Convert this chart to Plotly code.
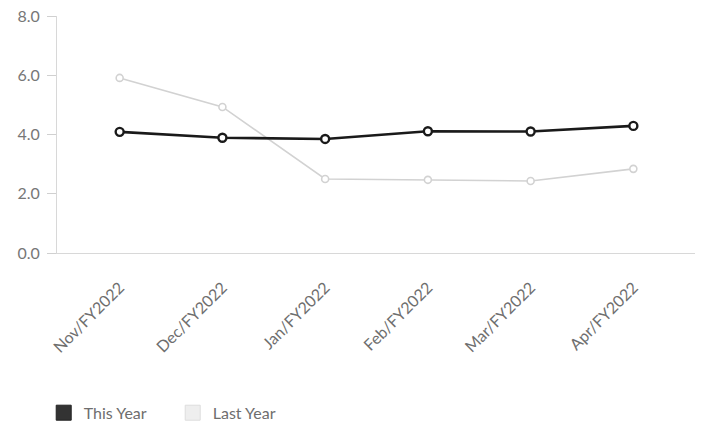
import plotly.graph_objects as go

categories = ["Nov/FY2022", "Dec/FY2022", "Jan/FY2022", "Feb/FY2022", "Mar/FY2022", "Apr/FY2022"]
this_year = [4.09, 3.89, 3.85, 4.11, 4.10, 4.29]
last_year = [5.91, 4.93, 2.50, 2.47, 2.43, 2.84]
y_ticks = [0, 2, 4, 6, 8]
y_tick_labels = ["0.0", "2.0", "4.0", "6.0", "8.0"]

fig = go.Figure()
fig.add_trace(go.Scatter(
    x=categories, y=last_year, mode="lines+markers", name="Last Year",
    line=dict(color="#d2d2d2", width=1.6),
    marker=dict(symbol="circle", size=7, color="white", line=dict(color="#d2d2d2", width=1.6)),
    showlegend=False,
))
fig.add_trace(go.Scatter(
    x=categories, y=this_year, mode="lines+markers", name="This Year",
    line=dict(color="#1a1a1a", width=2.6),
    marker=dict(symbol="circle", size=8, color="white", line=dict(color="#1a1a1a", width=2.4)),
    showlegend=False,
))
# legend entries
fig.add_trace(go.Scatter(x=[None], y=[None], mode="markers", name="This Year",
                         marker=dict(symbol="square", size=15, color="#333333",
                                     line=dict(color="#222222", width=1))))
fig.add_trace(go.Scatter(x=[None], y=[None], mode="markers", name="Last Year",
                         marker=dict(symbol="square", size=15, color="#eeeeee",
                                     line=dict(color="#dddddd", width=1))))

fig.update_layout(
    width=705, height=426,
    margin=dict(l=57, r=10, t=16, b=173, autoexpand=False),
    paper_bgcolor="white", plot_bgcolor="white",
    font=dict(family="Lato, sans-serif", color="#6e6e6e", size=16),
    showlegend=True,
    legend=dict(orientation="h", x=0.062, xref="container", xanchor="left",
                y=0.031, yref="container", yanchor="middle",
                font=dict(size=16, color="#6e6e6e"), itemwidth=30,
                entrywidth=84, traceorder="normal"),
    xaxis=dict(
        type="category", range=[-0.61, 5.6],
        showgrid=False, zeroline=False,
        showline=True, linecolor="#d8d8d8", linewidth=1,
        ticks="", tickangle=-45, ticklabelstandoff=18,
        tickfont=dict(size=16, color="#6e6e6e"),
    ),
    yaxis=dict(
        range=[0, 8], tickvals=y_ticks, ticktext=y_tick_labels,
        showgrid=False, zeroline=False,
        showline=True, linecolor="#d8d8d8", linewidth=1,
        ticks="outside", ticklen=9, tickcolor="#d0d0d0", ticklabelstandoff=4,
        tickfont=dict(size=16, color="#777777"),
    ),
)

fig.write_html("out.html")
